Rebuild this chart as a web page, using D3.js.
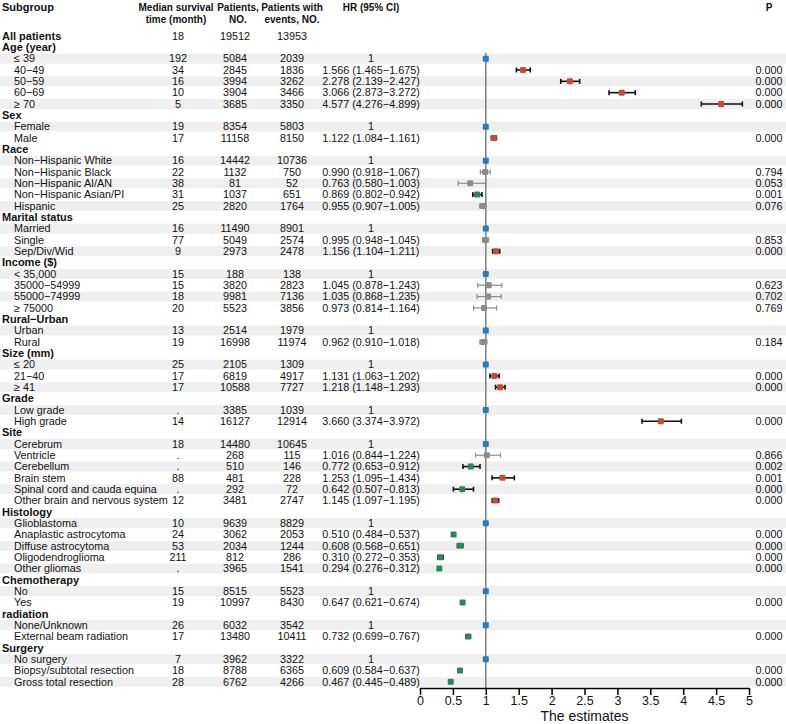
<!DOCTYPE html>
<head>
    <style>
        body { margin: 0; background: #fff; }
        text { font-family: "Liberation Sans", Arial, sans-serif; }
    </style>
</head>
<body>
    <script src="https://d3js.org/d3.v7.min.js"></script>
    <script>
        const width = 786;
        const height = 724;

        // table rows, top to bottom
        const subgroups = ["All patients", "Age (year)", "≤ 39", "40−49", "50−59", "60−69", "≥ 70",
            "Sex", "Female", "Male",
            "Race", "Non−Hispanic White", "Non−Hispanic Black", "Non−Hispanic AI/AN", "Non−Hispanic Asian/PI", "Hispanic",
            "Marital status", "Married", "Single", "Sep/Div/Wid",
            "Income ($)", "< 35,000", "35000−54999", "55000−74999", "≥ 75000",
            "Rural−Urban", "Urban", "Rural",
            "Size (mm)", "≤ 20", "21−40", "≥ 41",
            "Grade", "Low grade", "High grade",
            "Site", "Cerebrum", "Ventricle", "Cerebellum", "Brain stem", "Spinal cord and cauda equina", "Other brain and nervous system",
            "Histology", "Glioblastoma", "Anaplastic astrocytoma", "Diffuse astrocytoma", "Oligodendroglioma", "Other gliomas",
            "Chemotherapy", "No", "Yes",
            "radiation", "None/Unknown", "External beam radiation",
            "Surgery", "No surgery", "Biopsy/subtotal resection", "Gross total resection"];
        const headers = ["All patients", "Age (year)", "Sex", "Race", "Marital status", "Income ($)", "Rural−Urban",
            "Size (mm)", "Grade", "Site", "Histology", "Chemotherapy", "radiation", "Surgery"];

        const median = ["18", "", "192", "34", "16", "10", "5", "", "19", "17", "", "16", "22", "38", "31", "25",
            "", "16", "77", "9", "", "15", "15", "18", "20", "", "13", "19", "", "25", "17", "17", "", ".", "14",
            "", "18", ".", ".", "88", ".", "12", "", "10", "24", "53", "211", ".", "", "15", "19", "", "26", "17",
            "", "7", "18", "28"];
        const patients = ["19512", "", "5084", "2845", "3994", "3904", "3685", "", "8354", "11158", "", "14442", "1132", "81", "1037", "2820",
            "", "11490", "5049", "2973", "", "188", "3820", "9981", "5523", "", "2514", "16998", "", "2105", "6819", "10588", "", "3385", "16127",
            "", "14480", "268", "510", "481", "292", "3481", "", "9639", "3062", "2034", "812", "3965", "", "8515", "10997", "", "6032", "13480",
            "", "3962", "8788", "6762"];
        const events = ["13953", "", "2039", "1836", "3262", "3466", "3350", "", "5803", "8150", "", "10736", "750", "52", "651", "1764",
            "", "8901", "2574", "2478", "", "138", "2823", "7136", "3856", "", "1979", "11974", "", "1309", "4917", "7727", "", "1039", "12914",
            "", "10645", "115", "146", "228", "72", "2747", "", "8829", "2053", "1244", "286", "1541", "", "5523", "8430", "", "3542", "10411",
            "", "3322", "6365", "4266"];

        // hazard ratios (1 = reference level, null = no estimate)
        const hr = [null, null, 1, 1.566, 2.278, 3.066, 4.577, null, 1, 1.122, null, 1, 0.990, 0.763, 0.869, 0.955,
            null, 1, 0.995, 1.156, null, 1, 1.045, 1.035, 0.973, null, 1, 0.962, null, 1, 1.131, 1.218, null, 1, 3.660,
            null, 1, 1.016, 0.772, 1.253, 0.642, 1.145, null, 1, 0.510, 0.608, 0.310, 0.294, null, 1, 0.647, null, 1, 0.732,
            null, 1, 0.609, 0.467];
        const lower = [null, null, null, 1.465, 2.139, 2.873, 4.276, null, null, 1.084, null, null, 0.918, 0.580, 0.802, 0.907,
            null, null, 0.948, 1.104, null, null, 0.878, 0.868, 0.814, null, null, 0.910, null, null, 1.063, 1.148, null, null, 3.374,
            null, null, 0.844, 0.653, 1.095, 0.507, 1.097, null, null, 0.484, 0.568, 0.272, 0.276, null, null, 0.621, null, null, 0.699,
            null, null, 0.584, 0.445];
        const upper = [null, null, null, 1.675, 2.427, 3.272, 4.899, null, null, 1.161, null, null, 1.067, 1.003, 0.942, 1.005,
            null, null, 1.045, 1.211, null, null, 1.243, 1.235, 1.164, null, null, 1.018, null, null, 1.202, 1.293, null, null, 3.972,
            null, null, 1.224, 0.912, 1.434, 0.813, 1.195, null, null, 0.537, 0.651, 0.353, 0.312, null, null, 0.674, null, null, 0.767,
            null, null, 0.637, 0.489];
        const pvals = [null, null, null, "0.000", "0.000", "0.000", "0.000", null, null, "0.000", null, null, "0.794", "0.053", "0.001", "0.076",
            null, null, "0.853", "0.000", null, null, "0.623", "0.702", "0.769", null, null, "0.184", null, null, "0.000", "0.000", null, null, "0.000",
            null, null, "0.866", "0.002", "0.001", "0.000", "0.000", null, null, "0.000", "0.000", "0.000", "0.000", null, null, "0.000", null, null, "0.000",
            null, null, "0.000", "0.000"];

        const xTicks = [0, 0.5, 1, 1.5, 2, 2.5, 3, 3.5, 4, 4.5, 5];

        const fs = 10.8;
        const rowTop = 36, rowStep = 11.33;
        const rows = subgroups.map((s, i) => ({
            label: s, head: headers.includes(s), y: rowTop + i * rowStep,
            med: median[i], n: patients[i], ev: events[i],
            hr: hr[i], lo: lower[i], hi: upper[i], p: pvals[i]
        }));
        // stripe: first level of each group grey, then alternate
        let k = 0;
        rows.forEach(r => { if (r.head) k = 0; else { r.grey = k % 2 == 0; k++; } });

        const x = d3.scaleLinear().domain([0, 5]).range([420, 749]);
        const axisY = 688;

        const svg = d3.select("body").append("svg").attr("width", width).attr("height", height);

        svg.selectAll("rect.band").data(rows.filter(r => r.grey)).enter().append("rect")
            .attr("class", "band")
            .attr("x", 0).attr("width", width)
            .attr("y", d => d.y - 5).attr("height", 10)
            .attr("fill", "#efefef");

        // header
        const hd = svg.append("g").attr("font-weight", "bold").attr("font-size", 10).attr("fill", "#111");
        const head = [
            [2, ["Subgroup"], "start", 11],
            [176, ["Median survival", "time (month)"], "middle", 10],
            [238, ["Patients,", "NO."], "middle", 10],
            [292, ["Patients with", "events, NO."], "middle", 10],
            [371, ["HR (95% CI)"], "middle", 10],
            [769, ["P"], "middle", 10]
        ];
        head.forEach(h => h[1].forEach((t, j) => {
            hd.append("text").attr("x", h[0]).attr("y", 7 + j * 12.5)
                .attr("dy", "0.35em").attr("text-anchor", h[2]).attr("font-size", h[3]).text(t);
        }));

        const tb = svg.append("g").attr("font-size", fs).attr("fill", "#111");
        const row = tb.selectAll("g").data(rows).enter().append("g")
            .attr("transform", d => `translate(0,${d.y})`);
        row.append("text").attr("x", d => d.head ? 2 : 14).attr("dy", "0.35em")
            .attr("font-weight", d => d.head ? "bold" : null)
            .attr("font-size", d => d.head ? 11 : fs)
            .text(d => d.label);
        row.append("text").attr("x", 178).attr("dy", "0.35em").attr("text-anchor", "middle").text(d => d.med);
        row.append("text").attr("x", 235).attr("dy", "0.35em").attr("text-anchor", "middle").text(d => d.n);
        row.append("text").attr("x", 292).attr("dy", "0.35em").attr("text-anchor", "middle").text(d => d.ev);
        row.append("text").attr("x", 371).attr("dy", "0.35em").attr("text-anchor", "middle")
            .text(d => d.hr == null ? "" : d.lo == null ? "1" : `${d.hr.toFixed(3)} (${d.lo.toFixed(3)}−${d.hi.toFixed(3)})`);
        row.append("text").attr("x", 769).attr("dy", "0.35em").attr("text-anchor", "middle").text(d => d.p || "");

        // reference line
        svg.append("line").attr("x1", x(1)).attr("x2", x(1))
            .attr("y1", rows[2].y - 6).attr("y2", axisY)
            .attr("stroke", "#7f7f7f").attr("stroke-width", 1.5);

        const est = rows.filter(r => r.hr != null);
        const sig = d => d.p != null && +d.p < 0.05;
        const colour = d => d.lo == null ? "#2b7bbb" : !sig(d) ? "#8c8c8c" : d.hr > 1 ? "#c9483b" : "#2f8556";

        const ci = svg.selectAll("g.ci").data(est.filter(d => d.lo != null)).enter().append("g")
            .attr("class", "ci")
            .attr("stroke", d => sig(d) ? "#111" : "#8c8c8c")
            .attr("stroke-width", d => sig(d) ? 1.6 : 1.2);
        ci.append("line").attr("x1", d => x(d.lo)).attr("x2", d => x(d.hi)).attr("y1", d => d.y).attr("y2", d => d.y);
        ci.append("line").attr("x1", d => x(d.lo)).attr("x2", d => x(d.lo)).attr("y1", d => d.y - 2.5).attr("y2", d => d.y + 2.5);
        ci.append("line").attr("x1", d => x(d.hi)).attr("x2", d => x(d.hi)).attr("y1", d => d.y - 2.5).attr("y2", d => d.y + 2.5);

        svg.selectAll("rect.pt").data(est).enter().append("rect")
            .attr("class", "pt")
            .attr("x", d => x(d.hr) - 3).attr("y", d => d.y - 3)
            .attr("width", 6).attr("height", 6).attr("rx", 1.2)
            .attr("fill", colour);

        // x axis
        const ax = svg.append("g").attr("transform", `translate(0,${axisY})`)
            .call(d3.axisBottom(x).tickValues(xTicks).tickSize(7).tickPadding(1).tickSizeOuter(0).tickFormat(d => d));
        ax.select(".domain").attr("stroke", "#000").attr("stroke-width", 1.5);
        ax.selectAll(".tick line").attr("stroke", "#000").attr("stroke-width", 1.5);
        ax.selectAll("text").attr("font-size", 12.5).attr("fill", "#111")
            .attr("font-family", "Liberation Sans, Arial, sans-serif");

        svg.append("text").attr("x", x(2.5)).attr("y", 721)
            .attr("text-anchor", "middle").attr("font-size", 14).attr("fill", "#111")
            .text("The estimates");
    </script>
</body>
</html>
